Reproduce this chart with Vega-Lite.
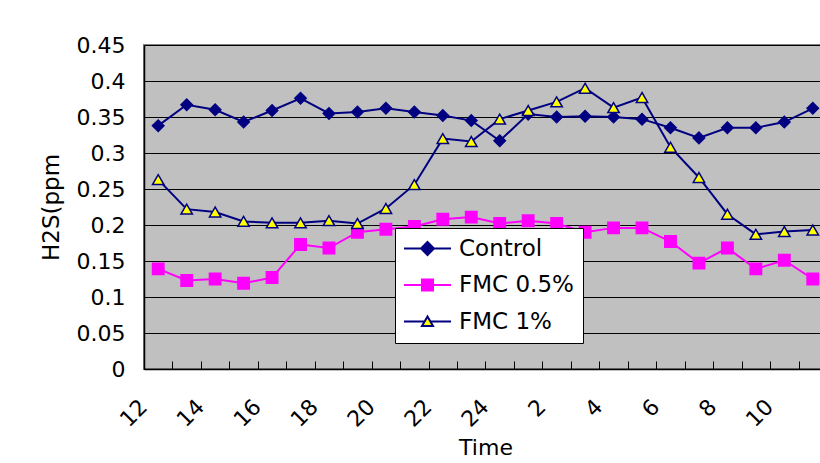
{
  "$schema": "https://vega.github.io/schema/vega-lite/v6.json",
  "width": 683,
  "height": 324,
  "autosize": {"type": "none"},
  "padding": {"left": 144, "top": 45, "right": 0, "bottom": 94},
  "background": "white",
  "config": {
    "font": "DejaVu Sans",
    "view": {"fill": "#C0C0C0", "stroke": "#808080", "strokeWidth": 2},
    "axis": {"labelFont": "DejaVu Sans", "titleFont": "DejaVu Sans", "labelColor": "black", "titleColor": "black", "titleFontWeight": "normal"}
  },
  "data": {
    "values": [
      {"time": "12", "series": "Control", "h2s": 0.338}, {"time": "13", "series": "Control", "h2s": 0.367},
      {"time": "14", "series": "Control", "h2s": 0.360}, {"time": "15", "series": "Control", "h2s": 0.343},
      {"time": "16", "series": "Control", "h2s": 0.359}, {"time": "17", "series": "Control", "h2s": 0.376},
      {"time": "18", "series": "Control", "h2s": 0.355}, {"time": "19", "series": "Control", "h2s": 0.357},
      {"time": "20", "series": "Control", "h2s": 0.362}, {"time": "21", "series": "Control", "h2s": 0.357},
      {"time": "22", "series": "Control", "h2s": 0.352}, {"time": "23", "series": "Control", "h2s": 0.345},
      {"time": "24", "series": "Control", "h2s": 0.317}, {"time": "1", "series": "Control", "h2s": 0.354},
      {"time": "2", "series": "Control", "h2s": 0.350}, {"time": "3", "series": "Control", "h2s": 0.351},
      {"time": "4", "series": "Control", "h2s": 0.350}, {"time": "5", "series": "Control", "h2s": 0.347},
      {"time": "6", "series": "Control", "h2s": 0.335}, {"time": "7", "series": "Control", "h2s": 0.321},
      {"time": "8", "series": "Control", "h2s": 0.335}, {"time": "9", "series": "Control", "h2s": 0.335},
      {"time": "10", "series": "Control", "h2s": 0.343}, {"time": "11", "series": "Control", "h2s": 0.362},

      {"time": "12", "series": "FMC 0.5%", "h2s": 0.139}, {"time": "13", "series": "FMC 0.5%", "h2s": 0.123},
      {"time": "14", "series": "FMC 0.5%", "h2s": 0.125}, {"time": "15", "series": "FMC 0.5%", "h2s": 0.119},
      {"time": "16", "series": "FMC 0.5%", "h2s": 0.127}, {"time": "17", "series": "FMC 0.5%", "h2s": 0.173},
      {"time": "18", "series": "FMC 0.5%", "h2s": 0.168}, {"time": "19", "series": "FMC 0.5%", "h2s": 0.190},
      {"time": "20", "series": "FMC 0.5%", "h2s": 0.194}, {"time": "21", "series": "FMC 0.5%", "h2s": 0.198},
      {"time": "22", "series": "FMC 0.5%", "h2s": 0.208}, {"time": "23", "series": "FMC 0.5%", "h2s": 0.211},
      {"time": "24", "series": "FMC 0.5%", "h2s": 0.202}, {"time": "1", "series": "FMC 0.5%", "h2s": 0.206},
      {"time": "2", "series": "FMC 0.5%", "h2s": 0.202}, {"time": "3", "series": "FMC 0.5%", "h2s": 0.190},
      {"time": "4", "series": "FMC 0.5%", "h2s": 0.196}, {"time": "5", "series": "FMC 0.5%", "h2s": 0.196},
      {"time": "6", "series": "FMC 0.5%", "h2s": 0.177}, {"time": "7", "series": "FMC 0.5%", "h2s": 0.147},
      {"time": "8", "series": "FMC 0.5%", "h2s": 0.168}, {"time": "9", "series": "FMC 0.5%", "h2s": 0.139},
      {"time": "10", "series": "FMC 0.5%", "h2s": 0.151}, {"time": "11", "series": "FMC 0.5%", "h2s": 0.125},

      {"time": "12", "series": "FMC 1%", "h2s": 0.263}, {"time": "13", "series": "FMC 1%", "h2s": 0.222},
      {"time": "14", "series": "FMC 1%", "h2s": 0.218}, {"time": "15", "series": "FMC 1%", "h2s": 0.205},
      {"time": "16", "series": "FMC 1%", "h2s": 0.203}, {"time": "17", "series": "FMC 1%", "h2s": 0.203},
      {"time": "18", "series": "FMC 1%", "h2s": 0.206}, {"time": "19", "series": "FMC 1%", "h2s": 0.202},
      {"time": "20", "series": "FMC 1%", "h2s": 0.223}, {"time": "21", "series": "FMC 1%", "h2s": 0.256},
      {"time": "22", "series": "FMC 1%", "h2s": 0.320}, {"time": "23", "series": "FMC 1%", "h2s": 0.316},
      {"time": "24", "series": "FMC 1%", "h2s": 0.347}, {"time": "1", "series": "FMC 1%", "h2s": 0.359},
      {"time": "2", "series": "FMC 1%", "h2s": 0.371}, {"time": "3", "series": "FMC 1%", "h2s": 0.390},
      {"time": "4", "series": "FMC 1%", "h2s": 0.363}, {"time": "5", "series": "FMC 1%", "h2s": 0.377},
      {"time": "6", "series": "FMC 1%", "h2s": 0.308}, {"time": "7", "series": "FMC 1%", "h2s": 0.266},
      {"time": "8", "series": "FMC 1%", "h2s": 0.215}, {"time": "9", "series": "FMC 1%", "h2s": 0.187},
      {"time": "10", "series": "FMC 1%", "h2s": 0.191}, {"time": "11", "series": "FMC 1%", "h2s": 0.193}
    ]
  },
  "encoding": {
    "x": {
      "field": "time",
      "type": "nominal",
      "sort": null,
      "scale": {"type": "band", "paddingInner": 0, "paddingOuter": 0},
      "axis": {
        "title": "Time",
        "titleFontSize": 22,
        "titlePadding": 7,
        "labelFontSize": 22,
        "labelAngle": -45,
        "labelAlign": "right",
        "labelBaseline": "middle",
        "labelOffset": -15,
        "labelPadding": 42,
        "labelOverlap": false,
        "labelExpr": "toNumber(datum.value) % 2 == 0 ? datum.value : ''",
        "ticks": true,
        "tickBand": "extent",
        "tickSize": -8,
        "tickWidth": 1,
        "tickColor": "black",
        "domainColor": "black",
        "domainWidth": 1.5,
        "grid": false
      }
    },
    "y": {
      "field": "h2s",
      "type": "quantitative",
      "scale": {"domain": [0, 0.45], "nice": false},
      "axis": {
        "title": "H2S(ppm",
        "titleFontSize": 23,
        "titlePadding": 13,
        "labelFontSize": 22,
        "labelPadding": 19,
        "format": ".2~f",
        "values": [0, 0.05, 0.1, 0.15, 0.2, 0.25, 0.3, 0.35, 0.4, 0.45],
        "ticks": false,
        "domainColor": "black",
        "domainWidth": 1.5,
        "grid": true,
        "gridColor": "black",
        "gridWidth": 1
      }
    }
  },
  "resolve": {"scale": {"shape": "independent", "fill": "independent", "stroke": "independent"}},
  "layer": [
    {
      "mark": {"type": "line", "strokeWidth": 2},
      "encoding": {
        "color": {
          "field": "series",
          "type": "nominal",
          "scale": {"range": ["#000080", "#FF00FF", "#000080"]},
          "legend": null
        }
      }
    },
    {
      "mark": {"type": "point", "opacity": 1, "strokeWidth": 1.5, "size": 130},
      "encoding": {
        "shape": {"field": "series", "type": "nominal", "scale": {"range": ["diamond", "square", "triangle-up"]}, "legend": null},
        "stroke": {"field": "series", "type": "nominal", "scale": {"range": ["#000080", "#FF00FF", "#000080"]}, "legend": null},
        "fill": {"field": "series", "type": "nominal", "scale": {"range": ["#000080", "#FF00FF", "#FFFF00"]}, "legend": null}
      }
    },
    {
      "description": "legend key: each series marker drawn over a short stretch of its line",
      "mark": {"type": "point", "opacity": 0, "strokeWidth": 2, "size": 400},
      "encoding": {
        "shape": {
          "field": "series",
          "type": "nominal",
          "scale": {
            "domain": ["Control", "FMC 0.5%", "FMC 1%"],
            "range": [
              "M-2.35,0H-0.65M0.65,0H2.35M0,-0.65L0.65,0L0,0.65L-0.65,0Z",
              "M-2.35,0H-0.55M0.55,0H2.35M-0.55,-0.55H0.55V0.55H-0.55Z",
              "M-2.35,0H-0.3M0.3,0H2.35M0,-0.5L0.55,0.45H-0.55Z"
            ]
          },
          "legend": {
            "title": null,
            "orient": "none",
            "legendX": 251,
            "legendY": 183,
            "fillColor": "white",
            "strokeColor": "black",
            "padding": 9,
            "rowPadding": 12.5,
            "symbolSize": 400,
            "symbolStrokeWidth": 2,
            "symbolOpacity": 1,
            "symbolOffset": 12,
            "labelOffset": 20,
            "labelFont": "DejaVu Sans",
            "labelFontSize": 23,
            "labelColor": "black"
          }
        },
        "stroke": {
          "field": "series",
          "type": "nominal",
          "scale": {"domain": ["Control", "FMC 0.5%", "FMC 1%"], "range": ["#000080", "#FF00FF", "#000080"]}
        },
        "fill": {
          "field": "series",
          "type": "nominal",
          "scale": {"domain": ["Control", "FMC 0.5%", "FMC 1%"], "range": ["#000080", "#FF00FF", "#FFFF00"]}
        }
      }
    }
  ]
}
